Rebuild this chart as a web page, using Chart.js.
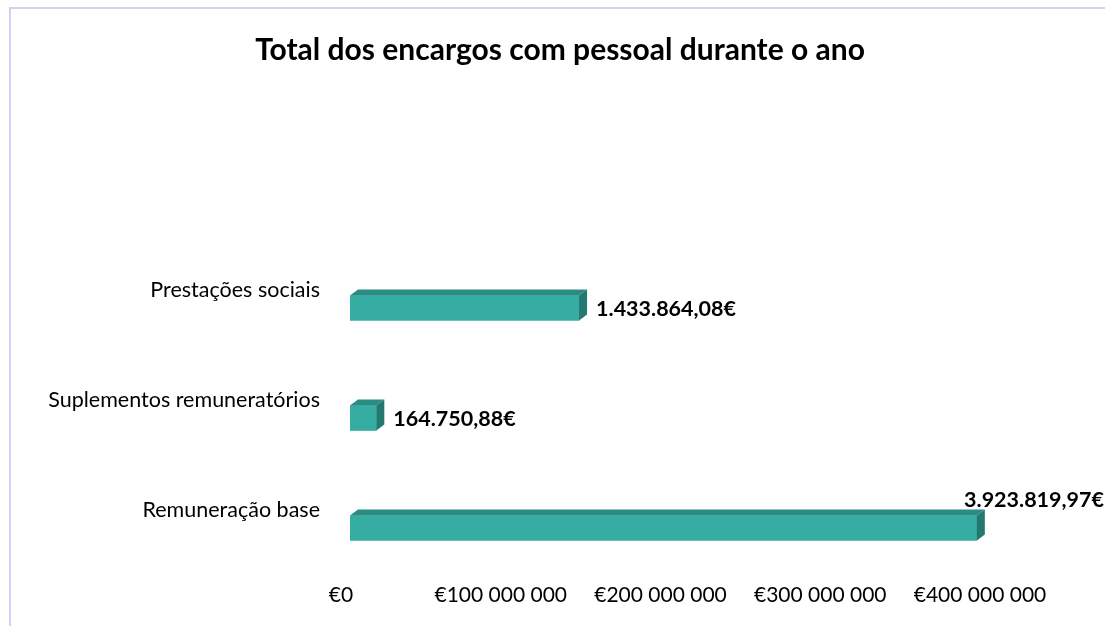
<!DOCTYPE html>
<html>
<head>
<meta charset="utf-8">
<script src="https://cdn.jsdelivr.net/npm/chart.js@4/dist/chart.umd.min.js"></script>
<style>
    body { margin: 0; background: #fff; }
    #wrap { position: relative; width: 1105px; height: 626px; overflow: hidden; }
    #moldura { position: absolute; left: 9px; top: 7px; width: 1200px; height: 700px;
        border-top: 2px solid #d4d0f0; border-left: 2px solid #d4d0f0; }
    #charEncargos { position: absolute; left: 0; top: 0; }
</style>
</head>
<body>
<div id="wrap">
    <div id="moldura"></div>
    <canvas id="charEncargos" width="1105" height="626"></canvas>
</div>
<script>
/* Encargos com pessoal */

const categorias = ['Prestações sociais', 'Suplementos remuneratórios', 'Remuneração base'];
// valores como aparecem no eixo do grafico original
const valoresEixo = [143386408, 16475088, 392381997];
const rotulosValor = ['1.433.864,08€', '164.750,88€', '3.923.819,97€'];
const rotulosEixo = ['€0', '€100 000 000', '€200 000 000', '€300 000 000', '€400 000 000'];

const corFrente = '#36ada3';
const corTopo = '#2b8c83';
const corLado = '#237870';

// caixas 3d + rotulos
const barras3d = {
    id: 'barras3d',
    afterLayout(chart) {
        // titulo centrado como no original
        if (chart.titleBlock) chart.titleBlock.left = 131;
    },
    afterDatasetsDraw(chart) {
        const ctx = chart.ctx;
        const meta = chart.getDatasetMeta(0);
        const d = 8, dy = 6;
        meta.data.forEach((bar, i) => {
            const top = bar.y - bar.height / 2;
            const bottom = bar.y + bar.height / 2;
            const x0 = bar.base, x1 = bar.x;
            ctx.save();
            ctx.fillStyle = corTopo;
            ctx.beginPath();
            ctx.moveTo(x0, top);
            ctx.lineTo(x0 + d, top - dy);
            ctx.lineTo(x1 + d, top - dy);
            ctx.lineTo(x1, top);
            ctx.closePath();
            ctx.fill();
            ctx.fillStyle = corLado;
            ctx.beginPath();
            ctx.moveTo(x1, top);
            ctx.lineTo(x1 + d, top - dy);
            ctx.lineTo(x1 + d, bottom - dy);
            ctx.lineTo(x1, bottom);
            ctx.closePath();
            ctx.fill();

            ctx.font = 'bold 21.5px Lato';
            ctx.fillStyle = '#000';
            ctx.textBaseline = 'middle';
            const txt = rotulosValor[i];
            const w = ctx.measureText(txt).width;
            let lx = x1 + d + 9, ly = bar.y + 1;
            if (lx + w > chart.width) {
                lx = chart.width - w - 1;
                ly = top - 15;
            }
            ctx.textAlign = 'left';
            ctx.fillText(txt, lx, ly);
            ctx.restore();
        });
    }
};

const cmc = document.getElementById('charEncargos');
const charEncargos = new Chart(cmc, {
    type: 'bar',
    data: {
        labels: categorias,
        datasets: [{
            data: valoresEixo,
            backgroundColor: corFrente,
            borderWidth: 0,
            barThickness: 25,
        }, ],
    },
    options: {
        indexAxis: 'y',
        responsive: false,
        animation: false,
        layout: { padding: { left: 0, right: 116 } },
        scales: {
            x: {
                min: 0,
                max: 400000000,
                grid: { display: false, drawTicks: false },
                border: { display: false },
                ticks: {
                    stepSize: 100000000,
                    autoSkip: false,
                    maxRotation: 0,
                    labelOffset: -9,
                    padding: 0,
                    color: '#000',
                    font: { family: 'Lato', size: 21 },
                    callback: (v, i) => rotulosEixo[i],
                },
                afterFit: (scale) => { scale.height = 43; },
            },
            y: {
                grid: { display: false, drawTicks: false },
                border: { display: false },
                ticks: {
                    padding: 30,
                    labelOffset: -18,
                    color: '#000',
                    font: { family: 'Lato', size: 21.5 },
                },
                afterFit: (scale) => { scale.width = 350; },
            },
        },
        plugins: {
            legend: {
                display: false,
            },
            tooltip: { enabled: false },
            title: {
                display: true,
                text: 'Total dos encargos com pessoal durante o ano',
                color: '#000',
                font: { family: 'Lato', size: 30, weight: 'bold' },
                padding: { top: 32, bottom: 185 },
            },
        },
    },
    plugins: [barras3d],
});
</script>
</body>
</html>
